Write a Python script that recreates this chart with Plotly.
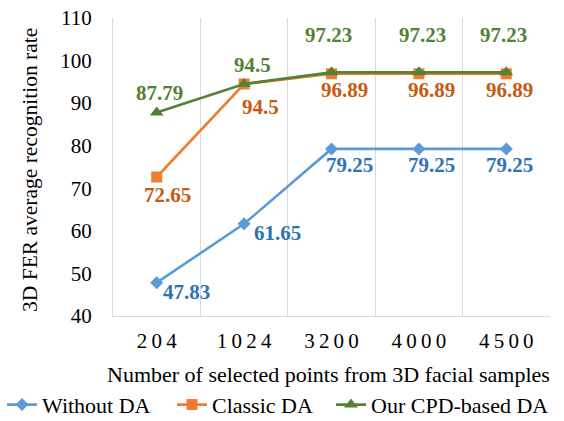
import plotly.graph_objects as go

# Point counts sampled from the 3D faces (categorical x axis)
sample_sizes = ["204", "1024", "3200", "4000", "4500"]

# Average recognition rate (%) for each augmentation strategy
without_da = [47.83, 61.65, 79.25, 79.25, 79.25]
classic_da = [72.65, 94.5, 96.89, 96.89, 96.89]
cpd_da = [87.79, 94.5, 97.23, 97.23, 97.23]

series_names = ["Without DA", "Classic DA", "Our CPD-based DA"]

# Styling per series: line colour, label colour, marker symbol and size
line_colors = ["#5B9BD5", "#ED7D31", "#548235"]
label_colors = ["#2E75B6", "#C55A11", "#538135"]
symbols = ["diamond", "square", "triangle-up"]
marker_sizes = [10, 11, 12]
legend_widths = [125, 114, None]

# Pixel offsets of each value label relative to its point
label_dx = [
    [30, 33, 18, 13, 3],
    [11, 16, 13, 13, 3],
    [3, 8, -3, 4, -3],
]
label_dy = [
    [9, 9, 16, 16, 16],
    [18, 23, 16, 16, 16],
    [-20, -19, -37, -37, -37],
]

FONT = "Liberation Serif"
THIN = "\u2009"

fig = go.Figure()
all_series = [without_da, classic_da, cpd_da]
for i, values in enumerate(all_series):
    fig.add_trace(
        go.Scatter(
            x=sample_sizes,
            y=values,
            name=series_names[i],
            mode="lines+markers",
            line=dict(color=line_colors[i], width=2.6),
            marker=dict(symbol=symbols[i], size=marker_sizes[i], color=line_colors[i]),
            legendwidth=legend_widths[i],
        )
    )
    for j, v in enumerate(values):
        # category axis: position the label by category index
        fig.add_annotation(
            x=j,
            y=v,
            text=f"{v:g}",
            showarrow=False,
            xshift=label_dx[i][j],
            yshift=-label_dy[i][j],
            font=dict(family=FONT, size=21, color=label_colors[i], weight="bold"),
        )

# x-axis title, placed under the tick labels
fig.add_annotation(
    text="Number of selected points from 3D facial samples",
    xref="paper",
    yref="paper",
    x=0.492,
    y=-0.195,
    xanchor="center",
    yanchor="middle",
    showarrow=False,
    font=dict(family=FONT, size=22, color="#000000"),
)

# y-axis title, rotated, left of the tick labels
fig.add_annotation(
    text="3D FER average recognition rate",
    xref="paper",
    yref="paper",
    x=-0.19,
    y=0.49,
    xanchor="center",
    yanchor="middle",
    textangle=-90,
    showarrow=False,
    font=dict(family=FONT, size=21.5, color="#000000"),
)

fig.update_layout(
    width=564,
    height=421,
    margin=dict(l=113, r=14, t=18, b=105, autoexpand=False),
    paper_bgcolor="white",
    plot_bgcolor="white",
    font=dict(family=FONT, size=19, color="#000000"),
    showlegend=True,
    legend=dict(
        orientation="h",
        xref="paper",
        x=-0.254,
        xanchor="left",
        yref="paper",
        y=-0.298,
        yanchor="middle",
        font=dict(family=FONT, size=22, color="#000000"),
        itemwidth=30,
        tracegroupgap=0,
    ),
)

fig.update_xaxes(
    type="category",
    categoryorder="array",
    categoryarray=sample_sizes,
    range=[-0.5, 4.5],
    tickson="boundaries",
    tickvals=sample_sizes,
    ticktext=[THIN.join(s) for s in sample_sizes],
    showgrid=True,
    gridcolor="#d9d9d9",
    gridwidth=1,
    showline=True,
    linecolor="#d9d9d9",
    linewidth=1,
    ticks="",
    tickangle=0,
    automargin=False,
    ticklabelstandoff=6,
    tickfont=dict(family=FONT, size=21),
)

fig.update_yaxes(
    range=[40, 110],
    dtick=10,
    showgrid=False,
    zeroline=False,
    showline=True,
    linecolor="#d9d9d9",
    linewidth=1,
    ticks="",
    automargin=False,
    ticklabelstandoff=16,
    tickfont=dict(family=FONT, size=21),
)

fig.write_html("out.html")
